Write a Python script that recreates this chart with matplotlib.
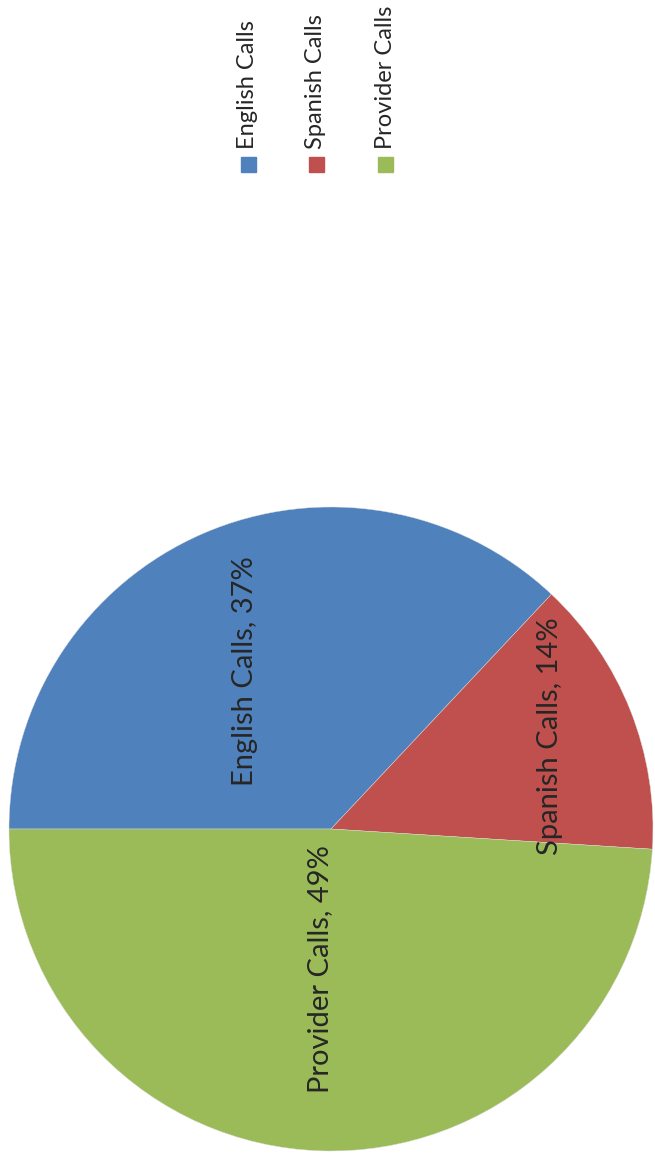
import matplotlib.pyplot as plt
from matplotlib.patches import Rectangle

labels = ['English Calls', 'Spanish Calls', 'Provider Calls']
shares = [37, 14, 49]
colors = ['#4F81BD', '#C0504D', '#9BBB59']
# label anchor points inside each wedge (pie data units)
label_pos = [(-0.267, 0.49), (0.68, 0.289), (-0.034, -0.435)]

plt.rcParams['font.family'] = ['Lato', 'DejaVu Sans']

W, H = 655, 1153
fig = plt.figure(figsize=(W / 100, H / 100), dpi=100)

cx, cy, r = 331, 829, 322
ax = fig.add_axes([(cx - r) / W, (H - cy - r) / H, 2 * r / W, 2 * r / H])
ax.pie(shares, colors=colors, startangle=180, counterclock=False, radius=1,
       wedgeprops=dict(linewidth=0.3, edgecolor='#dddddd'))
ax.set_xlim(-1, 1)
ax.set_ylim(-1, 1)
ax.set_aspect('equal')
ax.axis('off')

for name, v, (x, y) in zip(labels, shares, label_pos):
    ax.text(x, y, '%s, %d%%' % (name, v), rotation=90, ha='center', va='center',
            fontsize=21, color='#262626')

# legend, drawn sideways like the rest of the chart
leg_x = [248, 316, 385]
for name, c, x in zip(labels, colors, leg_x):
    fig.patches.append(Rectangle(((x - 7.5) / W, (H - 172) / H), 15 / W, 15 / H,
                                 transform=fig.transFigure, color=c))
    fig.text(x / W, (H - 149) / H, name, rotation=90, ha='center', va='bottom',
             fontsize=17, color='#262626')

fig.savefig('out.png', dpi=100)
